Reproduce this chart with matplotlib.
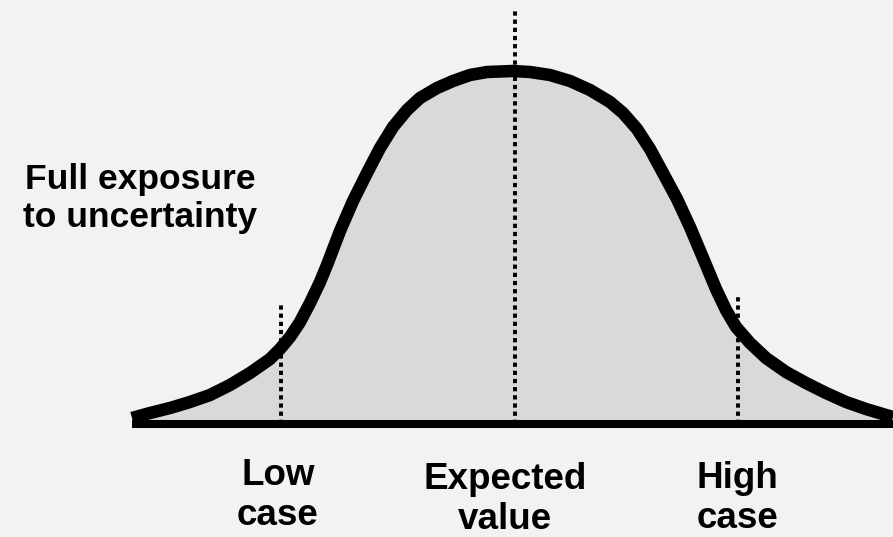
import matplotlib
matplotlib.use("Agg")
import matplotlib.pyplot as plt

# curve: horizontal position and height above the baseline
curve_x = [132, 150, 170, 190, 210, 230, 250, 270, 280, 290, 300, 310, 320, 327,
           340, 353, 367, 380, 393, 407, 420, 437, 453, 470, 487, 513,
           530, 550, 570, 590, 610, 623, 637, 650, 663, 677, 690, 698, 706,
           716, 726, 736, 750, 766, 786, 806, 826, 846, 866, 886, 893]
curve_h = [6, 11, 16, 22, 29, 39, 51, 65, 75, 87, 102, 121, 142, 159,
           193, 223, 251, 276, 297, 314, 326, 336, 343, 349, 352, 353,
           352, 349, 343, 334, 322, 311, 295, 275, 251, 225, 197, 178, 159,
           135, 114, 97, 81, 66, 52, 41, 31, 22, 15, 9, 7]

# marker lines: position, top, label
marker_x = [281, 515, 738]
marker_top = [119, 414, 127]
marker_labels = ["Low\ncase", "Expected\nvalue", "High\ncase"]
label_x = [278, 505, 737]
label_top = [-34, -38, -37]

side_label = "Full exposure\nto uncertainty"

plt.rcParams['font.family'] = ['Liberation Sans', 'DejaVu Sans']

fig = plt.figure(figsize=(8.93, 5.37), dpi=100, facecolor='#f2f2f2')
ax = fig.add_axes([0, 0, 1, 1])
ax.set_facecolor('#f2f2f2')
ax.set_xlim(0, 893)
ax.set_ylim(-113, 424)
ax.axis('off')

ax.fill_between(curve_x, curve_h, 0, color='#d9d9d9', lw=0, zorder=1)
for mx, mt in zip(marker_x, marker_top):
    ax.plot([mx, mx], [0, mt], color='black', lw=2.8, linestyle=(0, (1.1, 1.0)),
            dash_capstyle='butt', zorder=2)
ax.plot(curve_x, curve_h, color='black', lw=9, solid_capstyle='butt',
        solid_joinstyle='round', zorder=3)
ax.hlines(0, curve_x[0], 893, color='black', lw=5.8, zorder=4)

for lx, lt, txt in zip(label_x, label_top, marker_labels):
    ax.text(lx, lt, txt, ha='center', va='top', fontsize=26.5,
            fontweight='bold', linespacing=1.2)

ax.text(140, 261, side_label, ha='center', va='top', fontsize=25.5,
        fontweight='bold', linespacing=1.2)

fig.savefig('out.png', dpi=100, facecolor=fig.get_facecolor())
